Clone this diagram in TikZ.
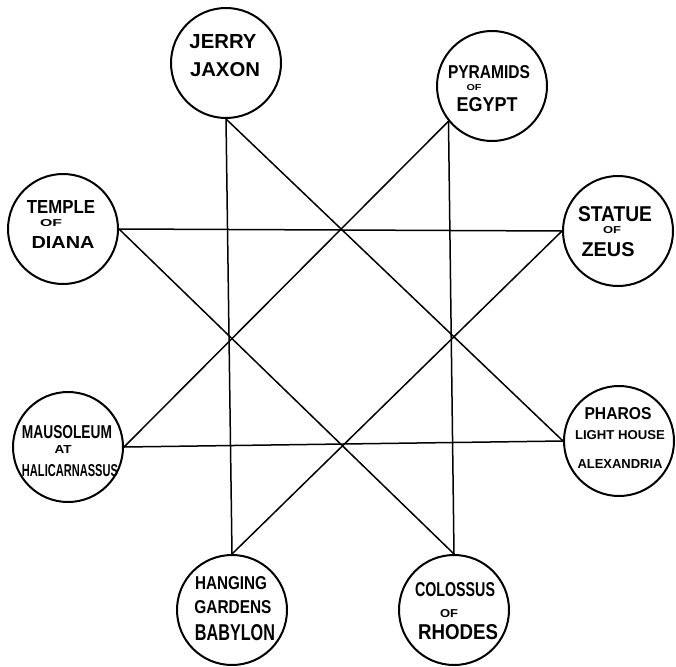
\documentclass[tikz,border=0pt]{standalone}
\usepackage{fontspec}
\setmainfont{Liberation Sans}
\usepackage{graphicx}
\newcommand{\hlet}[3]{\resizebox{#1pt}{#2pt}{\bfseries #3}}
\tikzset{
  wonder/.style={circle, draw, line width=2pt, minimum size=110pt, inner sep=0pt},
  link/.style={line width=1.5pt},
  txt/.style={inner sep=0pt, outer sep=0pt}
}
\begin{document}
\begin{tikzpicture}[x=1pt, y=-1pt]
\useasboundingbox (0,0) rectangle (676,666);
% circles
\node[wonder] (jerry)  at (226,63)  {};
\node[wonder] (pyr)    at (492,86)  {};
\node[wonder] (temple) at (63,229)  {};
\node[wonder] (statue) at (618,231) {};
\node[wonder] (maus)   at (68,447)  {};
\node[wonder] (pharos) at (619,441) {};
\node[wonder] (hang)   at (232,610) {};
\node[wonder] (colos)  at (454,610) {};
% connectors
\draw[link] (jerry.south) -- (hang.north);
\draw[link] (jerry.south) -- (pharos.west);
\draw[link] (pyr.219) -- (colos.north);
\draw[link] (pyr.219) -- (maus.east);
\draw[link] (temple.east) -- (statue.west);
\draw[link] (temple.east) -- (colos.north);
\draw[link] (maus.east) -- (pharos.west);
\draw[link] (hang.north) -- (statue.west);
% texts
\node[txt] (j1) at (223,42) {\hlet{67}{14}{JERRY}};
\node[txt] (j2) at (225,70) {\hlet{70}{14}{JAXON}};
\node[txt] (p1) at (489,72) {\hlet{82}{13}{PYRAMIDS}};
\node[txt] (p2) at (474,88) {\hlet{15}{6}{OF}};
\node[txt] (p3) at (487,105) {\hlet{61}{14}{EGYPT}};
\node[txt] (t1) at (61,207) {\hlet{68}{13}{TEMPLE}};
\node[txt] (t2) at (51,223) {\hlet{22}{7}{OF}};
\node[txt] (t3) at (63,242) {\hlet{63}{12}{DIANA}};
\node[txt] (s1) at (615,214) {\hlet{74}{15}{STATUE}};
\node[txt] (s2) at (612,230) {\hlet{18}{7}{OF}};
\node[txt] (s3) at (608,250) {\hlet{53}{14}{ZEUS}};
\node[txt] (m1) at (67,432) {\hlet{90}{13}{MAUSOLEUM}};
\node[txt] (m2) at (63,449) {\hlet{17}{8}{AT}};
\node[txt] (m3) at (70,471) {\hlet{96}{12}{HALICARNASSUS}};
\node[txt] (h1) at (618,414) {\hlet{67}{12}{PHAROS}};
\node[txt] (h2) at (620,435) {\hlet{90}{9}{LIGHT HOUSE}};
\node[txt] (h3) at (620,464) {\hlet{85}{9}{ALEXANDRIA}};
\node[txt] (g1) at (231,583) {\hlet{72}{13}{HANGING}};
\node[txt] (g2) at (233,607) {\hlet{77}{13}{GARDENS}};
\node[txt] (g3) at (235,633) {\hlet{80}{16}{BABYLON}};
\node[txt] (c1) at (455,590) {\hlet{80}{14}{COLOSSUS}};
\node[txt] (c2) at (449,614) {\hlet{18}{8}{OF}};
\node[txt] (c3) at (458,632) {\hlet{80}{15}{RHODES}};
\end{tikzpicture}
\end{document}
